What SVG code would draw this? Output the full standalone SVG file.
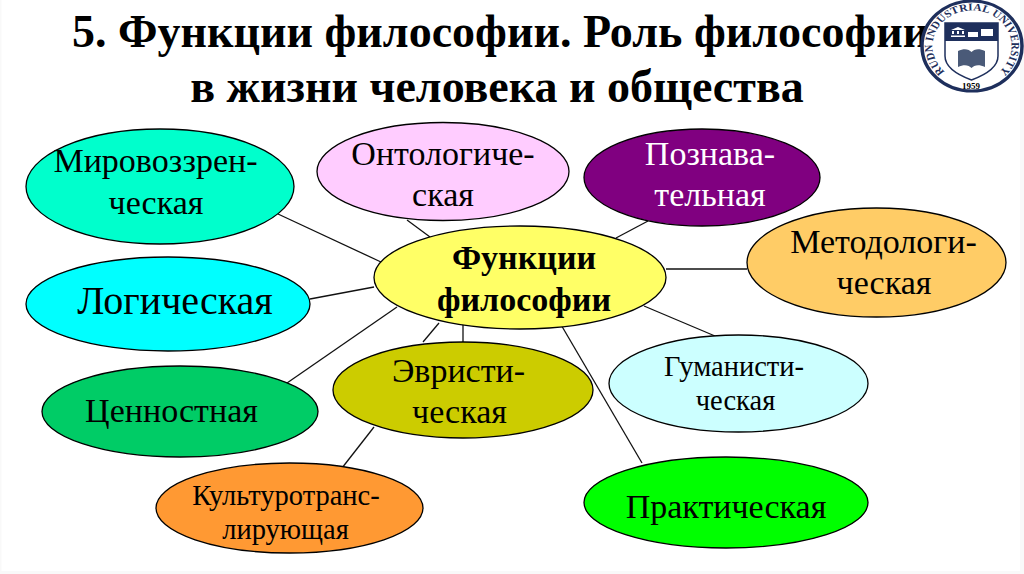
<svg xmlns="http://www.w3.org/2000/svg" width="1024" height="574" viewBox="0 0 1024 574">
<style>
text{font-family:"Liberation Serif","Times New Roman",serif;fill:#000;text-anchor:middle}
.n{stroke:#000;stroke-width:1.3}
.c line{stroke:#111;stroke-width:1.3}
.t{font-weight:bold;font-size:46px}
.f34{font-size:34px}
.f28{font-size:28.500px}
.navy{fill:#1e2f5c}
.w{fill:#fff}
</style>
<defs>
<path id="arcTop" d="M-24.300 31.100A39.500 39.500 0 1 1 24.300 31.100"/>
</defs>
<rect width="1024" height="574" fill="#f9f9f9"/>
<rect x="1.500" width="1018.500" height="571" fill="#fff"/>
<g id="title">
<text class="t" x="72" y="47" style="text-anchor:start">5. Функции философии. Роль философии</text>
<text class="t" x="497" y="102">в жизни человека и общества</text>
</g>
<g id="logo">
<g transform="translate(972 46) scale(1 .9)">
<circle r="50" fill="#fff" stroke="#1e2f5c" stroke-width="3.500"/>
<text font-size="11.500" font-weight="bold" style="fill:#1e2f5c;letter-spacing:.2px"><textPath href="#arcTop" startOffset="50%">RUDN INDUSTRIAL UNIVERSITY</textPath></text>
</g>
<text x="971" y="89" font-size="9" font-weight="bold">1959</text>
<path d="M945 23H998V56C998 68 985 75 971.500 80C958 75 945 68 945 56Z" fill="#fff" stroke="#1e2f5c" stroke-width="1.500"/>
<path d="M945 23H998V41H945Z" class="navy"/>
<path d="M951 37h14v-1.500h-14zM952 34h2v-3h-2zM957 34h2v-3h-2zM962 34h2v-3h-2zM951 30l7-3 7 3zM968 37v-5h10v5zM981 29h12v7h-12z" class="w"/>
<path d="M958 51C964 48 969 49 971.500 52C974 49 979 48 985 51V67C979 64 974 65 971.500 68C969 65 964 64 958 67Z" fill="#4a5a78"/>
</g>
<g id="connectors" class="c">
<line x1="278" y1="214" x2="381" y2="262"/>
<line x1="407" y1="220" x2="430" y2="237"/>
<line x1="616" y1="238" x2="648" y2="221"/>
<line x1="666" y1="269" x2="747" y2="269"/>
<line x1="310" y1="299" x2="374" y2="287"/>
<line x1="287" y1="383" x2="397" y2="307"/>
<line x1="423" y1="342" x2="439" y2="323"/>
<line x1="463" y1="342" x2="463" y2="323"/>
<line x1="560" y1="323" x2="642" y2="463"/>
<line x1="644" y1="306" x2="715" y2="336"/>
<line x1="374" y1="427" x2="342" y2="468"/>
</g>
<g id="n-world"><ellipse class="n" cx="160" cy="186.500" rx="134" ry="57.500" fill="#00ffcc"/>
<text class="f34" x="155.500" y="172">Мировоззрен-</text><text class="f34" x="156" y="214">ческая</text></g>
<g id="n-onto"><ellipse class="n" cx="443" cy="171.500" rx="126" ry="49" fill="#ffccff"/>
<text class="f34" x="443" y="165">Онтологиче-</text><text class="f34" x="443" y="206">ская</text></g>
<g id="n-cog"><ellipse class="n" cx="702" cy="177.500" rx="118" ry="48.500" fill="#800080"/>
<text class="f34" x="710" y="165" style="fill:#fff">Познава-</text><text class="f34" x="710" y="206" style="fill:#fff">тельная</text></g>
<g id="n-method"><ellipse class="n" cx="876.500" cy="262.500" rx="129.500" ry="54.500" fill="#ffcc66"/>
<text class="f34" x="883.500" y="253">Методологи-</text><text class="f34" x="884" y="294">ческая</text></g>
<g id="n-center"><ellipse class="n" cx="520" cy="277.500" rx="146" ry="51.500" fill="#ffff66"/>
<text class="f34" x="524" y="269" font-weight="bold">Функции</text><text class="f34" x="524" y="311" font-weight="bold">философии</text></g>
<g id="n-logic"><ellipse class="n" cx="168" cy="304" rx="142" ry="47" fill="#00ffff"/>
<text x="175" y="314" font-size="40px">Логическая</text></g>
<g id="n-value"><ellipse class="n" cx="180" cy="411.500" rx="138" ry="45.500" fill="#00cc66"/>
<text class="f34" x="171.500" y="422">Ценностная</text></g>
<g id="n-heur"><ellipse class="n" cx="463" cy="390" rx="130" ry="48" fill="#cccc00"/>
<text class="f34" x="458.500" y="382">Эвристи-</text><text class="f34" x="459.500" y="423">ческая</text></g>
<g id="n-human"><ellipse class="n" cx="738.500" cy="383.500" rx="129.500" ry="48.500" fill="#ccffff"/>
<text class="f28" x="734" y="376">Гуманисти-</text><text class="f28" x="735.500" y="410">ческая</text></g>
<g id="n-cult"><ellipse class="n" cx="289.500" cy="508" rx="133.500" ry="45" fill="#ff9933"/>
<text class="f28" x="286" y="505">Культуротранс-</text><text class="f28" x="285.500" y="539">лирующая</text></g>
<g id="n-prac"><ellipse class="n" cx="726" cy="502.500" rx="142" ry="45.500" fill="#00ff00"/>
<text class="f34" x="726" y="518">Практическая</text></g>
</svg>
